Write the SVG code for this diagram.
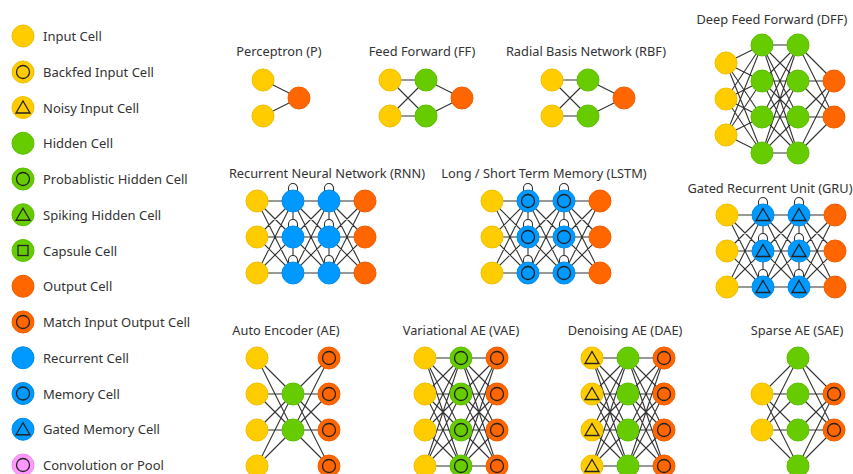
<svg xmlns="http://www.w3.org/2000/svg" xmlns:xlink="http://www.w3.org/1999/xlink" width="853" height="474" viewBox="0 0 853 474">
<style>
.in{fill:#FFCC00;stroke:#F2BF00;stroke-width:1}
.hid{fill:#66CC00;stroke:#5CBF00;stroke-width:1}
.out{fill:#FF6600;stroke:#F25F00;stroke-width:1}
.rec{fill:#0099FF;stroke:#008CF0;stroke-width:1}
.conv{fill:#FF99FF;stroke:#F08CF0;stroke-width:1}
.mk{fill:none;stroke:#222;stroke-width:1.3}
.c{fill:none;stroke:#333;stroke-width:1.1}
.lbl{font-family:"Noto Sans","Open Sans",sans-serif;font-size:13px;fill:#333}
.ttl{font-family:"Noto Sans","Open Sans",sans-serif;font-size:12.8px;fill:#333;text-anchor:middle}
</style>
<defs>
<g id="cIn"><circle r="11" class="in"/></g>
<g id="cBack"><circle r="11" class="in"/><circle r="6.5" class="mk"/></g>
<g id="cNoisy"><circle r="11" class="in"/><polygon points="0,-6.5 7,5.5 -7,5.5" class="mk"/></g>
<g id="cHid"><circle r="11" class="hid"/></g>
<g id="cProb"><circle r="11" class="hid"/><circle r="6.5" class="mk"/></g>
<g id="cSpike"><circle r="11" class="hid"/><polygon points="0,-6.5 7,5.5 -7,5.5" class="mk"/></g>
<g id="cCaps"><circle r="11" class="hid"/><rect x="-5" y="-5" width="10" height="10" class="mk"/></g>
<g id="cOut"><circle r="11" class="out"/></g>
<g id="cMatch"><circle r="11" class="out"/><circle r="6.5" class="mk"/></g>
<g id="cRec"><circle r="11" class="rec"/></g>
<g id="cMem"><circle r="11" class="rec"/><circle r="6.5" class="mk"/></g>
<g id="cGate"><circle r="11" class="rec"/><polygon points="0,-6.5 7,5.5 -7,5.5" class="mk"/></g>
<g id="cConv"><circle r="11" class="conv"/><circle r="6.5" class="mk"/></g>
<path id="loop" d="M-4.5 -9V-13A4.5 4.5 0 0 1 4.5 -13V-9" class="c"/>
</defs>
<rect width="853" height="474" fill="#fff"/>

<g id="legend">
<g id="lg-input"><use href="#cIn" x="23" y="36"/><text class="lbl" x="43" y="41">Input Cell</text></g>
<g id="lg-backfed"><use href="#cBack" x="23" y="72"/><text class="lbl" x="43" y="77">Backfed Input Cell</text></g>
<g id="lg-noisy"><use href="#cNoisy" x="23" y="107.5"/><text class="lbl" x="43" y="112.5">Noisy Input Cell</text></g>
<g id="lg-hidden"><use href="#cHid" x="23" y="143.25"/><text class="lbl" x="43" y="148.25">Hidden Cell</text></g>
<g id="lg-prob"><use href="#cProb" x="23" y="179"/><text class="lbl" x="43" y="184">Probablistic Hidden Cell</text></g>
<g id="lg-spike"><use href="#cSpike" x="23" y="214.75"/><text class="lbl" x="43" y="219.75">Spiking Hidden Cell</text></g>
<g id="lg-caps"><use href="#cCaps" x="23" y="250.5"/><text class="lbl" x="43" y="255.5">Capsule Cell</text></g>
<g id="lg-output"><use href="#cOut" x="23" y="286.25"/><text class="lbl" x="43" y="291.25">Output Cell</text></g>
<g id="lg-match"><use href="#cMatch" x="23" y="322"/><text class="lbl" x="43" y="327">Match Input Output Cell</text></g>
<g id="lg-rec"><use href="#cRec" x="23" y="357.75"/><text class="lbl" x="43" y="362.75">Recurrent Cell</text></g>
<g id="lg-mem"><use href="#cMem" x="23" y="393.5"/><text class="lbl" x="43" y="398.5">Memory Cell</text></g>
<g id="lg-gate"><use href="#cGate" x="23" y="429.25"/><text class="lbl" x="43" y="434.25">Gated Memory Cell</text></g>
<g id="lg-conv"><use href="#cConv" x="23" y="465"/><text class="lbl" x="43" y="470">Convolution or Pool</text></g>
</g>

<g id="titles">
<text class="ttl" x="279" y="56">Perceptron (P)</text>
<text class="ttl" x="422" y="56">Feed Forward (FF)</text>
<text class="ttl" x="586" y="56">Radial Basis Network (RBF)</text>
<text class="ttl" x="772" y="24">Deep Feed Forward (DFF)</text>
<text class="ttl" x="327" y="178">Recurrent Neural Network (RNN)</text>
<text class="ttl" x="544" y="178">Long / Short Term Memory (LSTM)</text>
<text class="ttl" x="770" y="193">Gated Recurrent Unit (GRU)</text>
<text class="ttl" x="286" y="335">Auto Encoder (AE)</text>
<text class="ttl" x="461" y="335">Variational AE (VAE)</text>
<text class="ttl" x="625" y="335">Denoising AE (DAE)</text>
<text class="ttl" x="797" y="335">Sparse AE (SAE)</text>
</g>

<g id="connectors">
<path class="c" d="M263 80L299 98M263 116L299 98"/>
<path class="c" d="M390 80L426 80M390 80L426 116M390 116L426 80M390 116L426 116M426 80L462 98M426 116L462 98"/>
<path class="c" d="M552 80L588 80M552 80L588 116M552 116L588 80M552 116L588 116M588 80L624 98M588 116L624 98"/>
<path class="c" d="M726 63L762 45M726 63L762 81M726 63L762 117M726 63L762 153M726 99L762 45M726 99L762 81M726 99L762 117M726 99L762 153M726 135L762 45M726 135L762 81M726 135L762 117M726 135L762 153
M762 45L798 45M762 45L798 81M762 45L798 117M762 45L798 153M762 81L798 45M762 81L798 81M762 81L798 117M762 81L798 153M762 117L798 45M762 117L798 81M762 117L798 117M762 117L798 153M762 153L798 45M762 153L798 81M762 153L798 117M762 153L798 153
M798 45L834 81M798 45L834 117M798 81L834 81M798 81L834 117M798 117L834 81M798 117L834 117M798 153L834 81M798 153L834 117"/>
<path class="c" d="M257 201L293 201M257 201L293 237M257 201L293 273M257 237L293 201M257 237L293 237M257 237L293 273M257 273L293 201M257 273L293 237M257 273L293 273
M293 201L329 201M293 201L329 237M293 201L329 273M293 237L329 201M293 237L329 237M293 237L329 273M293 273L329 201M293 273L329 237M293 273L329 273
M329 201L365 201M329 201L365 237M329 201L365 273M329 237L365 201M329 237L365 237M329 237L365 273M329 273L365 201M329 273L365 237M329 273L365 273
M293 212V220M293 248V256M329 212V220M329 248V256"/>
<path class="c" d="M492 201L528 201M492 201L528 237M492 201L528 273M492 237L528 201M492 237L528 237M492 237L528 273M492 273L528 201M492 273L528 237M492 273L528 273
M528 201L564 201M528 201L564 237M528 201L564 273M528 237L564 201M528 237L564 237M528 237L564 273M528 273L564 201M528 273L564 237M528 273L564 273
M564 201L600 201M564 201L600 237M564 201L600 273M564 237L600 201M564 237L600 237M564 237L600 273M564 273L600 201M564 273L600 237M564 273L600 273
M528 212V220M528 248V256M564 212V220M564 248V256"/>
<path class="c" d="M727 215L763 215M727 215L763 251M727 215L763 287M727 251L763 215M727 251L763 251M727 251L763 287M727 287L763 215M727 287L763 251M727 287L763 287
M763 215L799 215M763 215L799 251M763 215L799 287M763 251L799 215M763 251L799 251M763 251L799 287M763 287L799 215M763 287L799 251M763 287L799 287
M799 215L835 215M799 215L835 251M799 215L835 287M799 251L835 215M799 251L835 251M799 251L835 287M799 287L835 215M799 287L835 251M799 287L835 287
M763 226V234M763 262V270M799 226V234M799 262V270"/>
<path class="c" d="M257 358L293 394M257 358L293 430M257 394L293 394M257 394L293 430M257 430L293 394M257 430L293 430M257 466L293 394M257 466L293 430
M293 394L329 358M293 394L329 394M293 394L329 430M293 394L329 466M293 430L329 358M293 430L329 394M293 430L329 430M293 430L329 466"/>
<path class="c" d="M425 358L461 358M425 358L461 394M425 358L461 430M425 358L461 466M425 394L461 358M425 394L461 394M425 394L461 430M425 394L461 466M425 430L461 358M425 430L461 394M425 430L461 430M425 430L461 466M425 466L461 358M425 466L461 394M425 466L461 430M425 466L461 466
M461 358L497 358M461 358L497 394M461 358L497 430M461 358L497 466M461 394L497 358M461 394L497 394M461 394L497 430M461 394L497 466M461 430L497 358M461 430L497 394M461 430L497 430M461 430L497 466M461 466L497 358M461 466L497 394M461 466L497 430M461 466L497 466"/>
<path class="c" d="M592 358L628 358M592 358L628 394M592 358L628 430M592 358L628 466M592 394L628 358M592 394L628 394M592 394L628 430M592 394L628 466M592 430L628 358M592 430L628 394M592 430L628 430M592 430L628 466M592 466L628 358M592 466L628 394M592 466L628 430M592 466L628 466
M628 358L664 358M628 358L664 394M628 358L664 430M628 358L664 466M628 394L664 358M628 394L664 394M628 394L664 430M628 394L664 466M628 430L664 358M628 430L664 394M628 430L664 430M628 430L664 466M628 466L664 358M628 466L664 394M628 466L664 430M628 466L664 466"/>
<path class="c" d="M762 394L798 358M762 394L798 394M762 394L798 430M762 394L798 466M762 430L798 358M762 430L798 394M762 430L798 430M762 430L798 466
M798 358L834 394M798 358L834 430M798 394L834 394M798 394L834 430M798 430L834 394M798 430L834 430M798 466L834 394M798 466L834 430"/>
<g id="loops">
<use href="#loop" x="293" y="201"/><use href="#loop" x="293" y="237"/><use href="#loop" x="293" y="273"/>
<use href="#loop" x="329" y="201"/><use href="#loop" x="329" y="237"/><use href="#loop" x="329" y="273"/>
<use href="#loop" x="528" y="201"/><use href="#loop" x="528" y="237"/><use href="#loop" x="528" y="273"/>
<use href="#loop" x="564" y="201"/><use href="#loop" x="564" y="237"/><use href="#loop" x="564" y="273"/>
<use href="#loop" x="763" y="215"/><use href="#loop" x="763" y="251"/><use href="#loop" x="763" y="287"/>
<use href="#loop" x="799" y="215"/><use href="#loop" x="799" y="251"/><use href="#loop" x="799" y="287"/>
</g>
</g>

<g id="net-p">
<use id="p-i1" href="#cIn" x="263" y="80"/><use id="p-i2" href="#cIn" x="263" y="116"/>
<use id="p-o1" href="#cOut" x="299" y="98"/>
</g>
<g id="net-ff">
<use id="ff-i1" href="#cIn" x="390" y="80"/><use id="ff-i2" href="#cIn" x="390" y="116"/>
<use id="ff-h1" href="#cHid" x="426" y="80"/><use id="ff-h2" href="#cHid" x="426" y="116"/>
<use id="ff-o1" href="#cOut" x="462" y="98"/>
</g>
<g id="net-rbf">
<use id="rbf-i1" href="#cIn" x="552" y="80"/><use id="rbf-i2" href="#cIn" x="552" y="116"/>
<use id="rbf-h1" href="#cHid" x="588" y="80"/><use id="rbf-h2" href="#cHid" x="588" y="116"/>
<use id="rbf-o1" href="#cOut" x="624" y="98"/>
</g>
<g id="net-dff">
<use id="dff-i1" href="#cIn" x="726" y="63"/><use id="dff-i2" href="#cIn" x="726" y="99"/><use id="dff-i3" href="#cIn" x="726" y="135"/>
<use id="dff-a1" href="#cHid" x="762" y="45"/><use id="dff-a2" href="#cHid" x="762" y="81"/><use id="dff-a3" href="#cHid" x="762" y="117"/><use id="dff-a4" href="#cHid" x="762" y="153"/>
<use id="dff-b1" href="#cHid" x="798" y="45"/><use id="dff-b2" href="#cHid" x="798" y="81"/><use id="dff-b3" href="#cHid" x="798" y="117"/><use id="dff-b4" href="#cHid" x="798" y="153"/>
<use id="dff-o1" href="#cOut" x="834" y="81"/><use id="dff-o2" href="#cOut" x="834" y="117"/>
</g>
<g id="net-rnn">
<use id="rnn-i1" href="#cIn" x="257" y="201"/><use id="rnn-i2" href="#cIn" x="257" y="237"/><use id="rnn-i3" href="#cIn" x="257" y="273"/>
<use id="rnn-a1" href="#cRec" x="293" y="201"/><use id="rnn-a2" href="#cRec" x="293" y="237"/><use id="rnn-a3" href="#cRec" x="293" y="273"/>
<use id="rnn-b1" href="#cRec" x="329" y="201"/><use id="rnn-b2" href="#cRec" x="329" y="237"/><use id="rnn-b3" href="#cRec" x="329" y="273"/>
<use id="rnn-o1" href="#cOut" x="365" y="201"/><use id="rnn-o2" href="#cOut" x="365" y="237"/><use id="rnn-o3" href="#cOut" x="365" y="273"/>
</g>
<g id="net-lstm">
<use id="lstm-i1" href="#cIn" x="492" y="201"/><use id="lstm-i2" href="#cIn" x="492" y="237"/><use id="lstm-i3" href="#cIn" x="492" y="273"/>
<use id="lstm-a1" href="#cMem" x="528" y="201"/><use id="lstm-a2" href="#cMem" x="528" y="237"/><use id="lstm-a3" href="#cMem" x="528" y="273"/>
<use id="lstm-b1" href="#cMem" x="564" y="201"/><use id="lstm-b2" href="#cMem" x="564" y="237"/><use id="lstm-b3" href="#cMem" x="564" y="273"/>
<use id="lstm-o1" href="#cOut" x="600" y="201"/><use id="lstm-o2" href="#cOut" x="600" y="237"/><use id="lstm-o3" href="#cOut" x="600" y="273"/>
</g>
<g id="net-gru">
<use id="gru-i1" href="#cIn" x="727" y="215"/><use id="gru-i2" href="#cIn" x="727" y="251"/><use id="gru-i3" href="#cIn" x="727" y="287"/>
<use id="gru-a1" href="#cGate" x="763" y="215"/><use id="gru-a2" href="#cGate" x="763" y="251"/><use id="gru-a3" href="#cGate" x="763" y="287"/>
<use id="gru-b1" href="#cGate" x="799" y="215"/><use id="gru-b2" href="#cGate" x="799" y="251"/><use id="gru-b3" href="#cGate" x="799" y="287"/>
<use id="gru-o1" href="#cOut" x="835" y="215"/><use id="gru-o2" href="#cOut" x="835" y="251"/><use id="gru-o3" href="#cOut" x="835" y="287"/>
</g>
<g id="net-ae">
<use id="ae-i1" href="#cIn" x="257" y="358"/><use id="ae-i2" href="#cIn" x="257" y="394"/><use id="ae-i3" href="#cIn" x="257" y="430"/><use id="ae-i4" href="#cIn" x="257" y="466"/>
<use id="ae-h1" href="#cHid" x="293" y="394"/><use id="ae-h2" href="#cHid" x="293" y="430"/>
<use id="ae-o1" href="#cMatch" x="329" y="358"/><use id="ae-o2" href="#cMatch" x="329" y="394"/><use id="ae-o3" href="#cMatch" x="329" y="430"/><use id="ae-o4" href="#cMatch" x="329" y="466"/>
</g>
<g id="net-vae">
<use id="vae-i1" href="#cIn" x="425" y="358"/><use id="vae-i2" href="#cIn" x="425" y="394"/><use id="vae-i3" href="#cIn" x="425" y="430"/><use id="vae-i4" href="#cIn" x="425" y="466"/>
<use id="vae-h1" href="#cProb" x="461" y="358"/><use id="vae-h2" href="#cProb" x="461" y="394"/><use id="vae-h3" href="#cProb" x="461" y="430"/><use id="vae-h4" href="#cProb" x="461" y="466"/>
<use id="vae-o1" href="#cMatch" x="497" y="358"/><use id="vae-o2" href="#cMatch" x="497" y="394"/><use id="vae-o3" href="#cMatch" x="497" y="430"/><use id="vae-o4" href="#cMatch" x="497" y="466"/>
</g>
<g id="net-dae">
<use id="dae-i1" href="#cNoisy" x="592" y="358"/><use id="dae-i2" href="#cNoisy" x="592" y="394"/><use id="dae-i3" href="#cNoisy" x="592" y="430"/><use id="dae-i4" href="#cNoisy" x="592" y="466"/>
<use id="dae-h1" href="#cHid" x="628" y="358"/><use id="dae-h2" href="#cHid" x="628" y="394"/><use id="dae-h3" href="#cHid" x="628" y="430"/><use id="dae-h4" href="#cHid" x="628" y="466"/>
<use id="dae-o1" href="#cMatch" x="664" y="358"/><use id="dae-o2" href="#cMatch" x="664" y="394"/><use id="dae-o3" href="#cMatch" x="664" y="430"/><use id="dae-o4" href="#cMatch" x="664" y="466"/>
</g>
<g id="net-sae">
<use id="sae-i1" href="#cIn" x="762" y="394"/><use id="sae-i2" href="#cIn" x="762" y="430"/>
<use id="sae-h1" href="#cHid" x="798" y="358"/><use id="sae-h2" href="#cHid" x="798" y="394"/><use id="sae-h3" href="#cHid" x="798" y="430"/><use id="sae-h4" href="#cHid" x="798" y="466"/>
<use id="sae-o1" href="#cMatch" x="834" y="394"/><use id="sae-o2" href="#cMatch" x="834" y="430"/>
</g>
</svg>
